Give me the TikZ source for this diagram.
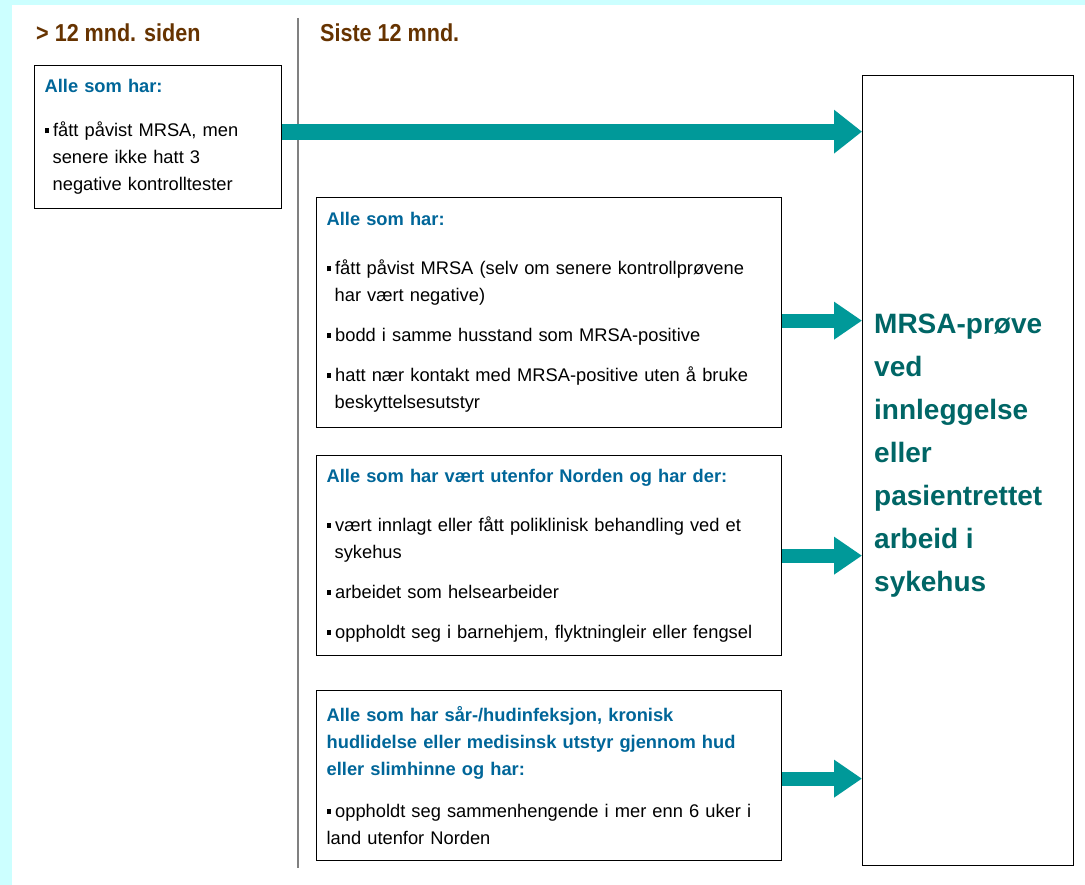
\documentclass[tikz,border=0pt]{standalone}
\usepackage{fontspec}
\setmainfont{Liberation Sans}
\newfontfamily\headfont[FakeStretch=0.88]{Liberation Sans}
\usetikzlibrary{arrows.meta,positioning,calc}
\definecolor{bgcyan}{HTML}{CCFFFF}
\definecolor{headbrown}{HTML}{663300}
\definecolor{titleblue}{HTML}{006699}
\definecolor{arrowteal}{HTML}{009999}
\definecolor{targetteal}{HTML}{006666}
\newcommand{\bul}{\rule[3.5pt]{4pt}{5pt}\hspace{4.5pt}}
\newcommand{\ind}{\hspace*{8pt}}
\newcommand{\ttl}[1]{{\bfseries\color{titleblue}#1}}

\begin{document}
\begin{tikzpicture}[x=1pt,y=-1pt]
\tikzset{critbox/.style={draw,line width=1.3pt,anchor=north west,inner xsep=10pt,inner ysep=0pt,align=left,font=\fontsize{18.3}{27}\selectfont}}
\tikzset{head/.style={anchor=base west,inner sep=0pt,text=headbrown,font=\headfont\bfseries\fontsize{24.5}{28}\selectfont}}
\tikzset{bigarrow/.style={draw=arrowteal,line width=16pt,-{Triangle[length=28pt,width=42pt]}}}
\tikzset{smallarrow/.style={draw=arrowteal,line width=14pt,-{Triangle[length=28pt,width=36pt]}}}
\fill[bgcyan] (0,0) rectangle (1085,885);
\fill[white] (12,5) rectangle (1085,885);
\useasboundingbox (0,0) rectangle (1085,885);
\node[head] (old) at (36,42) {> 12 mnd. siden};
\node[head] (recent) at (320,42) {Siste 12 mnd.};
\coordinate (divtop) at (298,18);
\coordinate (divbot) at (298,868);
\draw[gray,line width=1.5pt] (divtop) -- (divbot);
\node[critbox,text width=227pt,minimum height=143pt] (boxA) at (34,65)
{\ttl{Alle som har:}\\[17pt]
\bul fått påvist MRSA, men\\
\ind senere ikke hatt 3\\
\ind negative kontrolltester};
\node[critbox,text width=445pt,minimum height=230pt] (boxB) at (316,197)
{\ttl{Alle som har:}\\[22pt]
\bul fått påvist MRSA (selv om senere kontrollprøvene\\
\ind har vært negative)\\[13pt]
\bul bodd i samme husstand som MRSA-positive\\[13pt]
\bul hatt nær kontakt med MRSA-positive uten å bruke\\
\ind beskyttelsesutstyr};
\node[critbox,text width=445pt,minimum height=200pt] (boxC) at (316,455)
{\ttl{Alle som har vært utenfor Norden og har der:}\\[22pt]
\bul vært innlagt eller fått poliklinisk behandling ved et\\
\ind sykehus\\[13pt]
\bul arbeidet som helsearbeider\\[13pt]
\bul oppholdt seg i barnehjem, flyktningleir eller fengsel};
\node[critbox,text width=445pt,minimum height=170pt] (boxD) at (316,690)
{\ttl{Alle som har sår-/hudinfeksjon, kronisk}\\
\ttl{hudlidelse eller medisinsk utstyr gjennom hud}\\
\ttl{eller slimhinne og har:}\\[15pt]
\bul oppholdt seg sammenhengende i mer enn 6 uker i\\
land utenfor Norden};
\node[draw,line width=1.3pt,anchor=north west,minimum width=211pt,minimum height=790pt] (target) at (862,75) {};
\node[anchor=west,inner sep=0pt,align=left,text=targetteal,font=\bfseries\fontsize{28}{43}\selectfont] (targettext) at ([xshift=12pt,yshift=15pt]target.west)
{MRSA-prøve\\ved\\innleggelse\\eller\\pasientrettet\\arbeid i\\sykehus};
\coordinate (fromA) at ([yshift=5.5pt]boxA.east);
\coordinate (fromB) at ([yshift=-8pt]boxB.east);
\coordinate (fromC) at (boxC.east);
\coordinate (fromD) at ([yshift=-3pt]boxD.east);
\draw[bigarrow] (fromA) -- (fromA -| target.west);
\draw[smallarrow] (fromB) -- (fromB -| target.west);
\draw[smallarrow] (fromC) -- (fromC -| target.west);
\draw[smallarrow] (fromD) -- (fromD -| target.west);
\end{tikzpicture}
\end{document}
